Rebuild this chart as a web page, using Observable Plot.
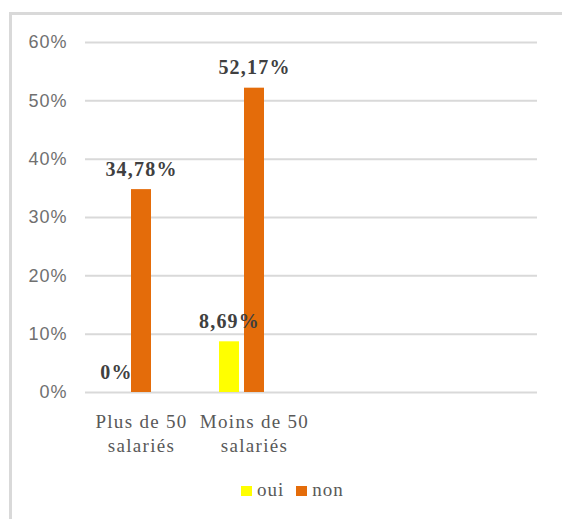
<!DOCTYPE html>
<html><head><meta charset="utf-8">
<script src="https://cdn.jsdelivr.net/npm/d3@7"></script>
<script src="https://cdn.jsdelivr.net/npm/@observablehq/plot@0.6"></script>
<style>
html,body{margin:0;padding:0;background:#fff;}
#chart{position:relative;width:562px;height:519px;overflow:hidden;}
#frame{position:absolute;left:9px;top:12px;right:-10px;bottom:-10px;border-top:3px solid #d9d9d9;border-left:3px solid #d9d9d9;}
#plot svg{position:absolute;left:0;top:0;}
#legend{position:absolute;left:241px;top:480px;display:flex;align-items:center;font-family:"Liberation Serif",serif;font-size:19px;line-height:19px;color:#595959;letter-spacing:1px;}
#legend .sw{display:inline-block;width:11px;height:10px;transform:translateY(1px);margin-right:5px;}
#legend .it{display:flex;align-items:center;margin-right:12px;}
</style>
</head><body>
<div id="chart"><div id="frame"></div><div id="plot"></div><div id="legend"></div></div>
<script>
const categories = ["Plus de 50 salariés", "Moins de 50 salariés"];
const emptySlots = ["vide 1", "vide 2"];
const series = ["oui", "non"];
const oui = [0, 0.0869];
const non = [0.3478, 0.5217];
const colors = ["#ffff00", "#e46c0a"];
const yTicks = [0, 0.1, 0.2, 0.3, 0.4, 0.5, 0.6];

const data = categories.flatMap((c, i) => [
  {cat: c, serie: series[0], value: oui[i]},
  {cat: c, serie: series[1], value: non[i]}
]);
const fmt = v => v === 0 ? "0%" : (v * 100).toFixed(2).replace(".", ",") + "%";

const frameOpts = {
  width: 562, height: 470,
  marginLeft: 85, marginRight: 25, marginTop: 42, marginBottom: 78,
  style: {background: "transparent", overflow: "visible"}
};

// base layer: gridlines + y axis
const base = Plot.plot({
  ...frameOpts,
  x: {axis: null},
  y: {domain: [0, 0.6], axis: null},
  marks: [
    Plot.ruleY(yTicks, {stroke: "#d9d9d9", strokeWidth: 2}),
    Plot.axisY({ticks: yTicks, tickFormat: d => Math.round(d * 100) + "%", tickSize: 0, tickPadding: 18,
      fontSize: 18, fontFamily: "Liberation Sans, sans-serif", color: "#707070", label: null})
  ]
});

// top layer: grouped bars, values, category labels
const plot = Plot.plot({
  ...frameOpts,
  fx: {domain: [...categories, ...emptySlots], paddingInner: 0.38, paddingOuter: 0.19, axis: null},
  x: {domain: [...series, "vide"], paddingInner: 0.2, paddingOuter: 0, axis: null},
  y: {domain: [0, 0.6], axis: null},
  color: {domain: series, range: colors},
  marks: [
    Plot.barY(data, {fx: "cat", x: "serie", y: "value", fill: "serie"}),
    Plot.text(data, {fx: "cat", x: "serie", y: "value", text: d => fmt(d.value), dy: -14, lineAnchor: "bottom",
      fontWeight: "bold", fontSize: 20, fontFamily: "Liberation Serif, serif", fill: "#404040"}),
    Plot.text(categories, {fx: d => d, text: d => d.replace(" salariés", "\nsalariés"), frameAnchor: "bottom",
      lineAnchor: "top", dy: 18.5, lineHeight: 1.26, fontSize: 19, fontFamily: "Liberation Serif, serif", fill: "#595959"})
  ]
});
document.getElementById("plot").appendChild(base);
document.getElementById("plot").appendChild(plot);
d3.select(plot).selectAll("g[aria-label='text']").each(function(_, i) {
  d3.select(this).selectAll("text").style("letter-spacing", i === 0 ? "1.2px" : "1.3px");
});
d3.select(base).selectAll("g[aria-label='y-axis tick label'] text").style("letter-spacing", "1px");

const legend = d3.select("#legend");
series.forEach((s, i) => {
  const it = legend.append("div").attr("class", "it");
  it.append("span").attr("class", "sw").style("background", colors[i]);
  it.append("span").text(s);
});
</script>
</body></html>
